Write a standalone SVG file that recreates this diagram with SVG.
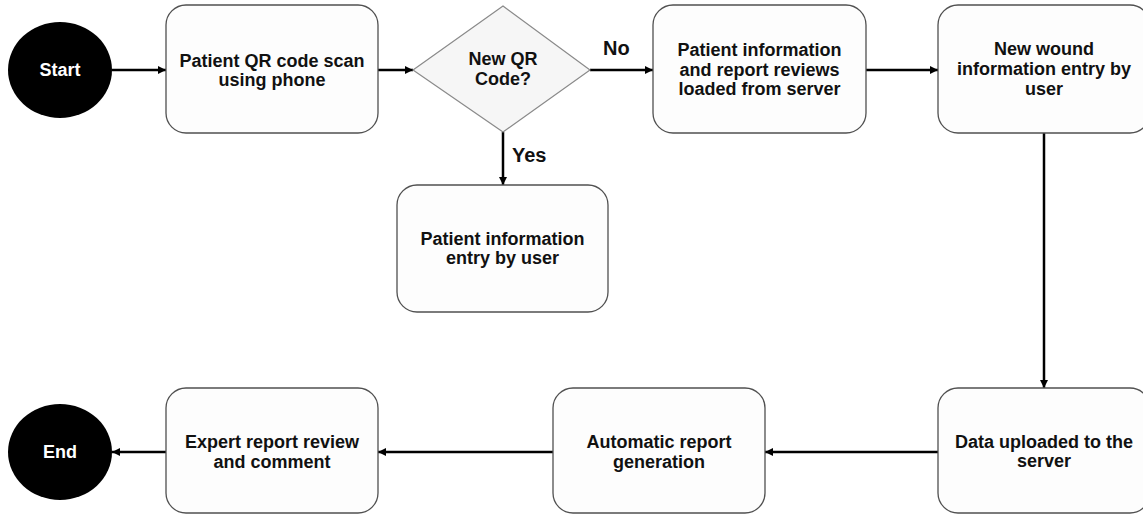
<svg xmlns="http://www.w3.org/2000/svg" width="1143" height="514" viewBox="0 0 1143 514">
<style>
.box{fill:#fdfdfd;stroke:#505050;stroke-width:1.3}
.dia{fill:#f6f6f6;stroke:#8a8a8a;stroke-width:1.2}
.term{fill:#000}
.t{font-family:"Liberation Sans",Arial,sans-serif;font-weight:bold;font-size:18px;fill:#111;text-anchor:middle}
.tw{font-family:"Liberation Sans",Arial,sans-serif;font-weight:bold;font-size:18px;fill:#fff;text-anchor:middle}
.lbl{font-family:"Liberation Sans",Arial,sans-serif;font-weight:bold;font-size:20px;fill:#111}
.c{fill:none;stroke:#000;stroke-width:2.5}
</style>
<defs>
<marker id="ah" viewBox="0 0 10 10" refX="10" refY="5" markerUnits="userSpaceOnUse" markerWidth="9" markerHeight="8" orient="auto">
<path d="M0,0 L10,5 L0,10 z" fill="#000"/>
</marker>
</defs>
<rect width="1143" height="514" fill="#fff"/>
<g id="connectors">
<path class="c" d="M112,70 L166,70" marker-end="url(#ah)"/>
<path class="c" d="M378,70 L413,70" marker-end="url(#ah)"/>
<path class="c" d="M590,70 L653,70" marker-end="url(#ah)"/>
<path class="c" d="M503,132 L503,185" marker-end="url(#ah)"/>
<path class="c" d="M866,70 L938,70" marker-end="url(#ah)"/>
<path class="c" d="M1044,133 L1044,388" marker-end="url(#ah)"/>
<path class="c" d="M938,452 L765,452" marker-end="url(#ah)"/>
<path class="c" d="M553,452 L378,452" marker-end="url(#ah)"/>
<path class="c" d="M166,452 L112,452" marker-end="url(#ah)"/>
<text class="lbl" x="603" y="55">No</text>
<text class="lbl" x="512" y="162">Yes</text>
</g>
<g id="start">
<ellipse class="term" cx="60" cy="70" rx="52" ry="48"/>
<text class="tw" x="60" y="76">Start</text>
</g>
<g id="scan">
<rect class="box" x="166" y="5" width="212" height="128" rx="20"/>
<text class="t" x="272" y="67">Patient QR code scan</text>
<text class="t" x="272" y="86">using phone</text>
</g>
<g id="decision">
<polygon class="dia" points="503,6 590,70 503,132 413,70"/>
<text class="t" x="503" y="65">New QR</text>
<text class="t" x="503" y="85">Code?</text>
</g>
<g id="newpatient">
<rect class="box" x="397" y="185" width="211" height="127" rx="20"/>
<text class="t" x="502.5" y="245">Patient information</text>
<text class="t" x="502.5" y="264">entry by user</text>
</g>
<g id="loaded">
<rect class="box" x="653" y="5" width="213" height="128" rx="20"/>
<text class="t" x="759.5" y="56">Patient information</text>
<text class="t" x="759.5" y="76">and report reviews</text>
<text class="t" x="759.5" y="95">loaded from server</text>
</g>
<g id="wound">
<rect class="box" x="938" y="5" width="212" height="128" rx="20"/>
<text class="t" x="1044" y="55">New wound</text>
<text class="t" x="1044" y="75">information entry by</text>
<text class="t" x="1044" y="95">user</text>
</g>
<g id="upload">
<rect class="box" x="938" y="388" width="212" height="125" rx="20"/>
<text class="t" x="1044" y="448">Data uploaded to the</text>
<text class="t" x="1044" y="467">server</text>
</g>
<g id="auto">
<rect class="box" x="553" y="388" width="212" height="125" rx="20"/>
<text class="t" x="659" y="448">Automatic report</text>
<text class="t" x="659" y="468">generation</text>
</g>
<g id="expert">
<rect class="box" x="166" y="388" width="212" height="125" rx="20"/>
<text class="t" x="272" y="448">Expert report review</text>
<text class="t" x="272" y="468">and comment</text>
</g>
<g id="end">
<ellipse class="term" cx="60" cy="452" rx="52" ry="48"/>
<text class="tw" x="60" y="458">End</text>
</g>
</svg>
